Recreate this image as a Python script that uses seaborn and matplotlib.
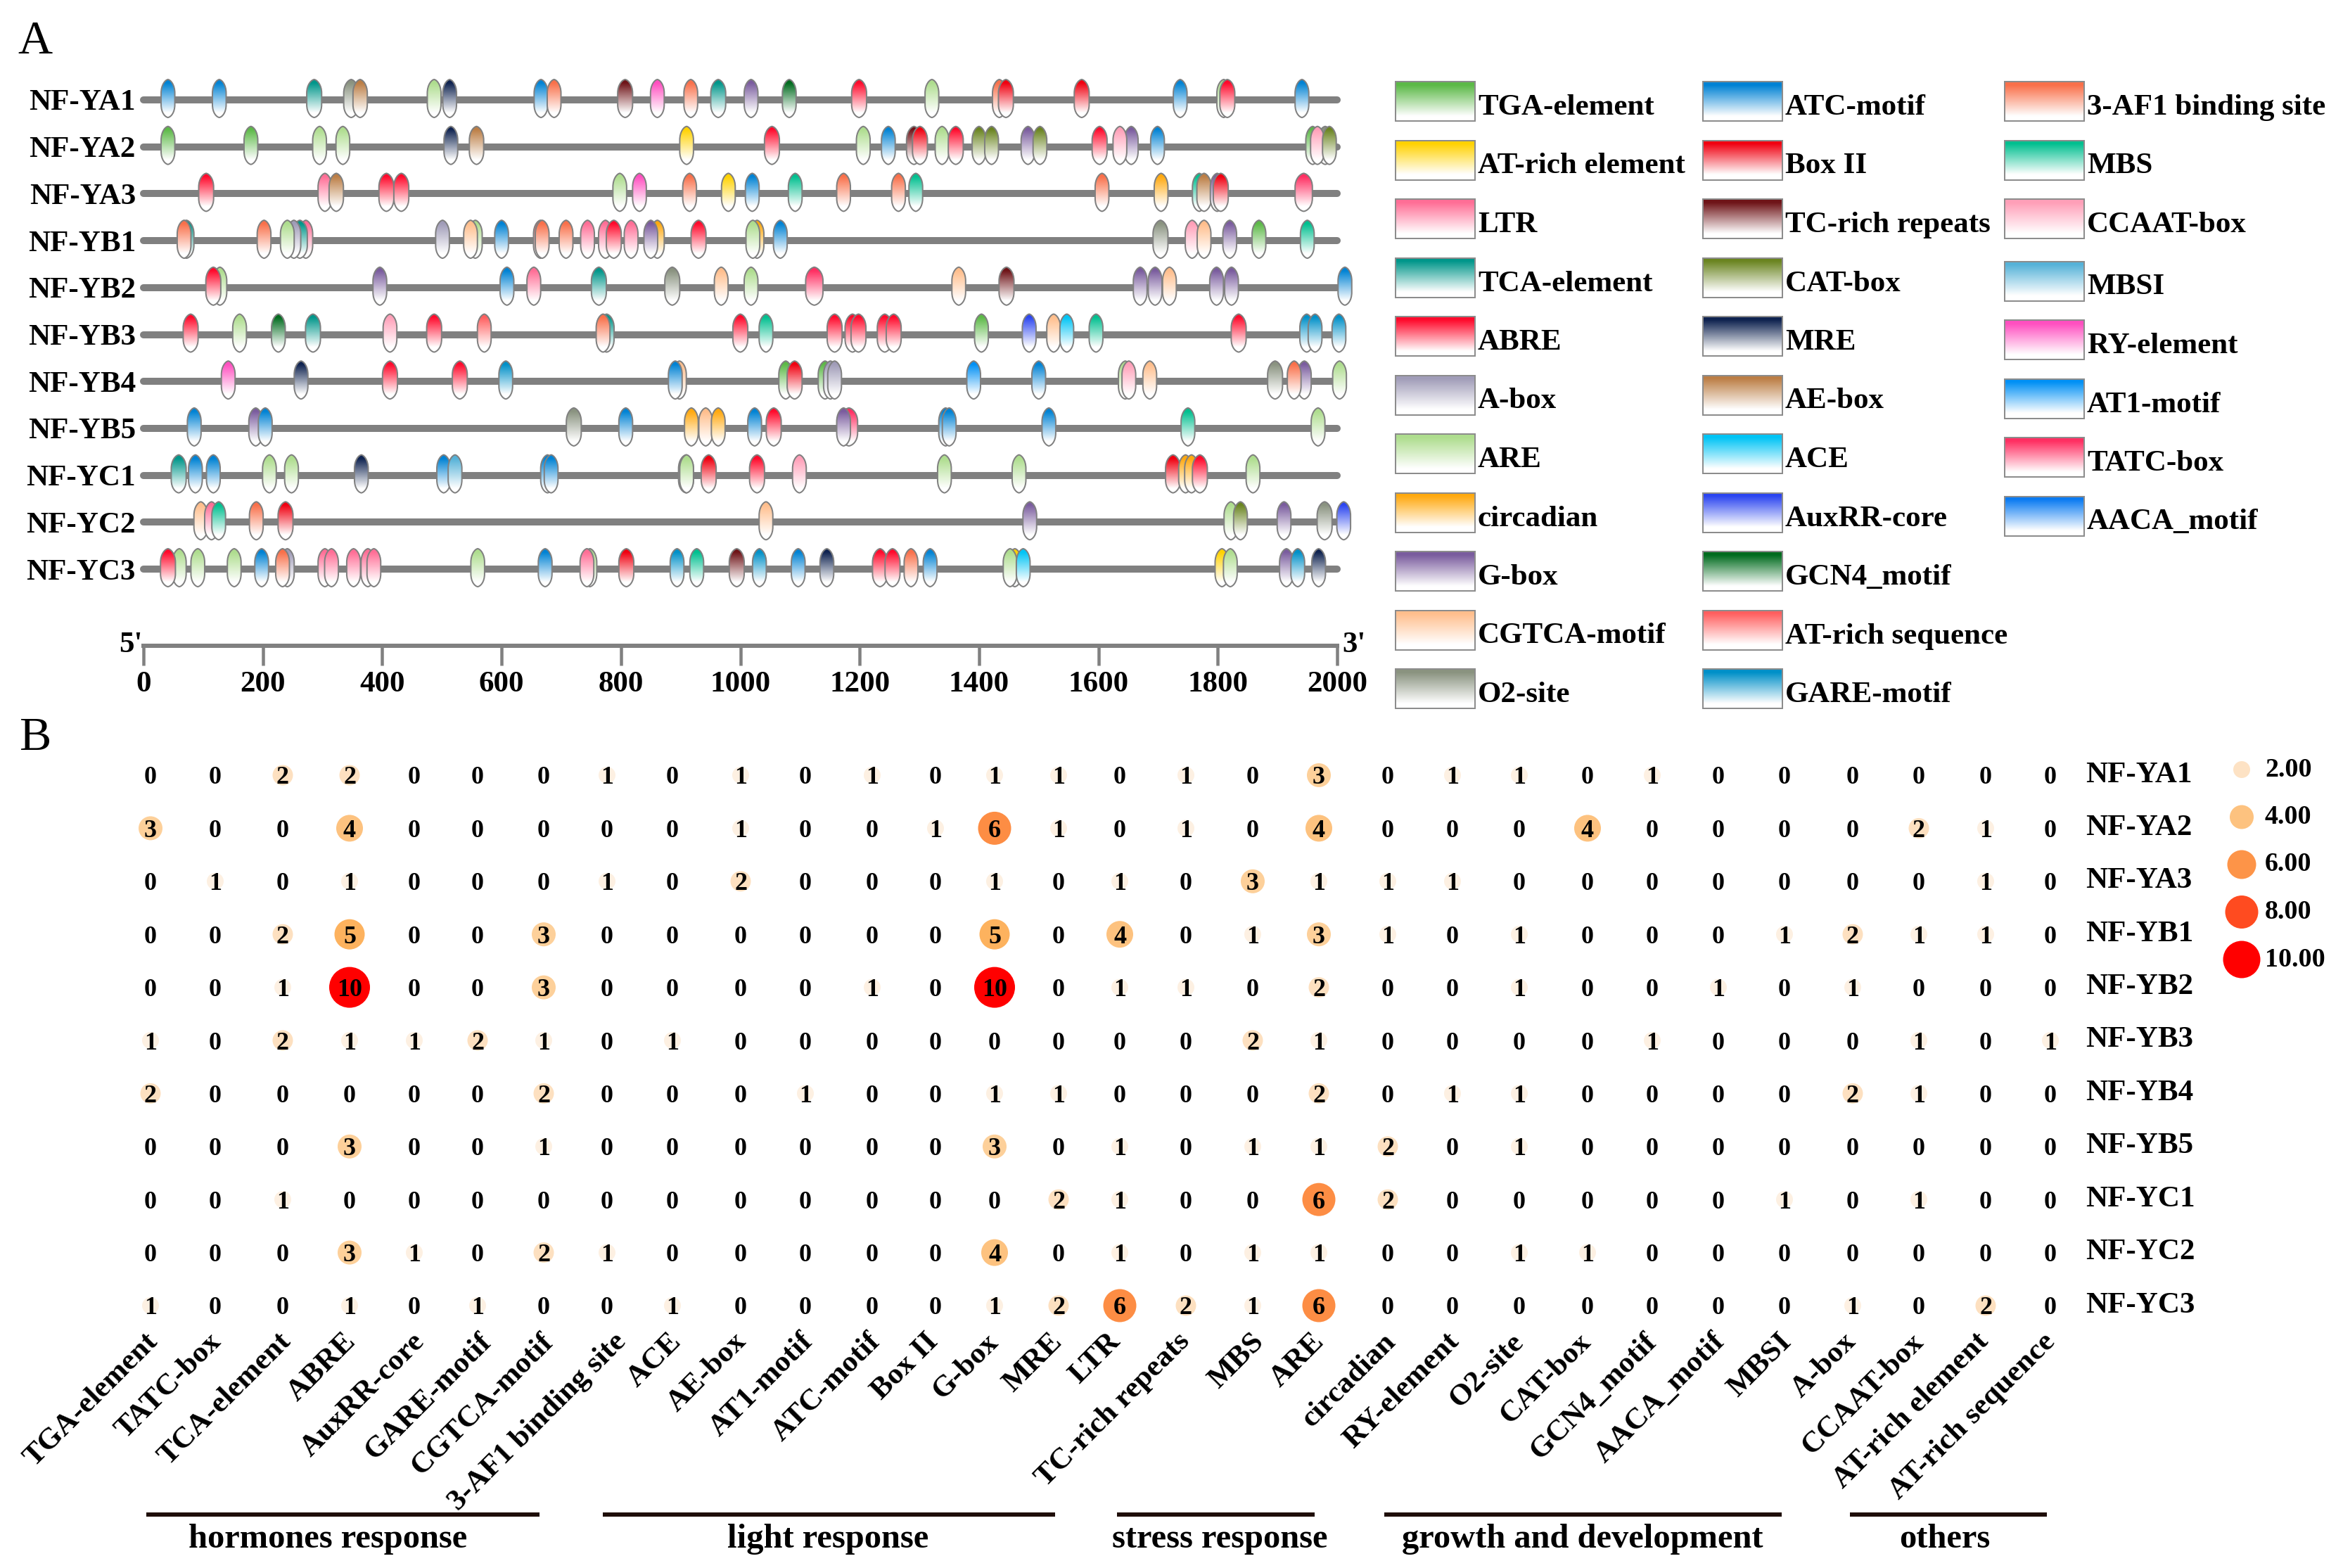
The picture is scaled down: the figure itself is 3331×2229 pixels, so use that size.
import numpy as np
import pandas as pd
import seaborn as sns
import matplotlib.pyplot as plt
from matplotlib.colors import LinearSegmentedColormap
from matplotlib.patches import PathPatch, Rectangle
from matplotlib.path import Path
from matplotlib.transforms import ScaledTranslation

W, H = 3331, 2229

genes = ['NF-YA1', 'NF-YA2', 'NF-YA3', 'NF-YB1', 'NF-YB2', 'NF-YB3', 'NF-YB4', 'NF-YB5', 'NF-YC1', 'NF-YC2', 'NF-YC3']

# motif name, top colour of the gradient
legend_col1 = [('TGA-element', '#5CB947'), ('AT-rich element', '#FFD200'), ('LTR', '#FF6E96'), ('TCA-element', '#00968A'),
               ('ABRE', '#FF0A2C'), ('A-box', '#A09CB8'), ('ARE', '#AEDD8E'), ('circadian', '#FFA90F'),
               ('G-box', '#7A5C9E'), ('CGTCA-motif', '#FFBE8C'), ('O2-site', '#8A9380')]
legend_col2 = [('ATC-motif', '#0082D4'), ('Box II', '#F00010'), ('TC-rich repeats', '#6F1418'), ('CAT-box', '#6A8420'),
               ('MRE', '#0F2350'), ('AE-box', '#BC7E45'), ('ACE', '#00C4F5'), ('AuxRR-core', '#2B45F0'),
               ('GCN4_motif', '#006B1E'), ('AT-rich sequence', '#FF5F5F'), ('GARE-motif', '#0090C8')]
legend_col3 = [('3-AF1 binding site', '#F9704A'), ('MBS', '#00BF8F'), ('CCAAT-box', '#FF9FB8'), ('MBSI', '#55B2D8'),
               ('RY-element', '#FF4FC0'), ('AT1-motif', '#0090F5'), ('TATC-box', '#FF2F62'), ('AACA_motif', '#0A7BF2')]

# position in bp, motif; later entries lie on top
ya1 = [(41, 'ATC-motif'), (127, 'ATC-motif'), (286, 'TCA-element'), (348, 'O2-site'), (363, 'AE-box'), (487, 'ARE'),
       (513, 'MRE'), (666, 'ATC-motif'), (688, '3-AF1 binding site'), (807, 'TC-rich repeats'), (861, 'RY-element'),
       (917, '3-AF1 binding site'), (963, 'TCA-element'), (1018, 'G-box'), (1082, 'GCN4_motif'), (1199, 'ABRE'),
       (1321, 'ARE'), (1434, '3-AF1 binding site'), (1445, 'Box II'), (1572, 'Box II'), (1737, 'ATC-motif'),
       (1810, 'ARE'), (1816, 'ABRE'), (1941, 'ATC-motif')]
ya2 = [(41, 'TGA-element'), (180, 'TGA-element'), (295, 'ARE'), (334, 'ARE'), (515, 'MRE'), (558, 'AE-box'),
       (910, 'AT-rich element'), (1053, 'ABRE'), (1206, 'ARE'), (1248, 'ATC-motif'), (1291, 'TC-rich repeats'),
       (1301, 'Box II'), (1338, 'ARE'), (1361, 'ABRE'), (1400, 'CAT-box'), (1421, 'CAT-box'), (1482, 'G-box'),
       (1502, 'CAT-box'), (1602, 'ABRE'), (1655, 'G-box'), (1636, 'CCAAT-box'), (1699, 'ATC-motif'),
       (1959, 'TGA-element'), (1980, 'O2-site'), (1967, 'CCAAT-box'), (1987, 'CAT-box')]
ya3 = [(105, 'ABRE'), (304, 'LTR'), (323, 'AE-box'), (407, 'ABRE'), (432, 'ABRE'), (798, 'ARE'), (831, 'RY-element'),
       (915, '3-AF1 binding site'), (980, 'AT-rich element'), (1020, 'ATC-motif'), (1092, 'MBS'),
       (1173, '3-AF1 binding site'), (1265, '3-AF1 binding site'), (1294, 'MBS'), (1606, '3-AF1 binding site'),
       (1705, 'circadian'), (1769, 'MBS'), (1777, 'AE-box'), (1799, 'G-box'), (1805, 'Box II'), (1944, 'TATC-box')]
yb1 = [(72, 'TCA-element'), (68, '3-AF1 binding site'), (202, '3-AF1 binding site'), (272, 'LTR'), (262, 'TCA-element'),
       (252, 'A-box'), (241, 'ARE'), (501, 'A-box'), (556, 'ARE'), (548, 'CGTCA-motif'), (600, 'ATC-motif'),
       (665, 'AT-rich sequence'), (668, '3-AF1 binding site'), (708, '3-AF1 binding site'), (744, 'LTR'), (774, 'LTR'),
       (788, 'ABRE'), (817, 'LTR'), (861, 'circadian'), (850, 'G-box'), (930, 'ABRE'), (1028, 'circadian'), (1021, 'ARE'),
       (1067, 'ATC-motif'), (1704, 'O2-site'), (1757, 'CCAAT-box'), (1777, 'CGTCA-motif'), (1820, 'G-box'),
       (1869, 'TGA-element'), (1950, 'MBS')]
yb2 = [(128, 'ARE'), (117, 'ABRE'), (396, 'G-box'), (609, 'ATC-motif'), (654, 'LTR'), (763, 'TCA-element'), (886, 'O2-site'),
       (968, 'CGTCA-motif'), (1018, 'ARE'), (1124, 'TATC-box'), (1366, 'CGTCA-motif'), (1446, 'TC-rich repeats'),
       (1670, 'G-box'), (1695, 'G-box'), (1719, 'CGTCA-motif'), (1798, 'G-box'), (1823, 'G-box'), (2013, 'ATC-motif')]
yb3 = [(79, 'ABRE'), (161, 'ARE'), (226, 'GCN4_motif'), (284, 'TCA-element'), (413, 'CCAAT-box'), (487, 'ABRE'),
       (571, 'AT-rich sequence'), (776, 'TCA-element'), (770, '3-AF1 binding site'), (1000, 'ABRE'), (1043, 'MBS'),
       (1158, 'ABRE'), (1188, 'ABRE'), (1198, 'ABRE'), (1242, 'ABRE'), (1257, 'ABRE'), (1404, 'TGA-element'),
       (1484, 'AuxRR-core'), (1525, 'CGTCA-motif'), (1547, 'ACE'), (1596, 'MBS'), (1835, 'ABRE'), (1949, 'GARE-motif'),
       (1963, 'GARE-motif'), (2003, 'GARE-motif')]
yb4 = [(142, 'RY-element'), (264, 'MRE'), (413, 'ABRE'), (530, 'ABRE'), (607, 'GARE-motif'), (898, 'CGTCA-motif'),
       (891, 'ATC-motif'), (1076, 'TGA-element'), (1091, 'Box II'), (1142, 'TGA-element'), (1151, 'A-box'), (1158, 'A-box'),
       (1391, 'AT1-motif'), (1500, 'ATC-motif'), (1645, 'ARE'), (1651, 'CCAAT-box'), (1686, 'CGTCA-motif'), (1896, 'O2-site'),
       (1945, 'G-box'), (1928, '3-AF1 binding site'), (2004, 'ARE')]
yb5 = [(85, 'ATC-motif'), (188, 'G-box'), (204, 'ATC-motif'), (721, 'O2-site'), (808, 'ATC-motif'), (918, 'circadian'),
       (942, 'CGTCA-motif'), (963, 'circadian'), (1024, 'ATC-motif'), (1056, 'ABRE'), (1182, 'TATC-box'), (1173, 'G-box'),
       (1344, 'ATC-motif'), (1350, 'ATC-motif'), (1517, 'ATC-motif'), (1750, 'MBS'), (1968, 'ARE')]
yc1 = [(59, 'TCA-element'), (87, 'ATC-motif'), (117, 'ATC-motif'), (211, 'ARE'), (248, 'ARE'), (365, 'MRE'),
       (503, 'ATC-motif'), (522, 'MBSI'), (677, 'ATC-motif'), (683, 'ATC-motif'), (909, 'O2-site'), (910, 'ARE'),
       (947, 'Box II'), (1028, 'ABRE'), (1099, 'CCAAT-box'), (1342, 'ARE'), (1467, 'ARE'), (1725, 'Box II'),
       (1746, 'circadian'), (1756, 'circadian'), (1770, 'ABRE'), (1859, 'ARE')]
yc2 = [(96, 'CGTCA-motif'), (114, 'LTR'), (126, 'MBS'), (189, '3-AF1 binding site'), (238, 'Box II'), (1043, 'CGTCA-motif'),
       (1485, 'G-box'), (1822, 'ARE'), (1838, 'CAT-box'), (1911, 'G-box'), (1979, 'O2-site'), (2011, 'AuxRR-core')]
yc3 = [(60, 'ARE'), (41, 'ABRE'), (91, 'ARE'), (152, 'ARE'), (198, 'ATC-motif'), (241, 'A-box'), (233, '3-AF1 binding site'),
       (304, 'LTR'), (315, 'LTR'), (352, 'LTR'), (376, 'LTR'), (386, 'LTR'), (560, 'ARE'), (673, 'ATC-motif'), (748, 'ARE'),
       (743, 'LTR'), (809, 'Box II'), (894, 'GARE-motif'), (927, 'MBS'), (994, 'TC-rich repeats'), (1032, 'GARE-motif'),
       (1097, 'ATC-motif'), (1145, 'MRE'), (1234, 'ABRE'), (1255, 'ABRE'), (1286, '3-AF1 binding site'), (1318, 'ATC-motif'),
       (1460, 'AT-rich element'), (1452, 'ARE'), (1474, 'ACE'), (1807, 'AT-rich element'), (1821, 'ARE'), (1915, 'G-box'),
       (1934, 'GARE-motif'), (1969, 'MRE')]
gene_motifs = [ya1, ya2, ya3, yb1, yb2, yb3, yb4, yb5, yc1, yc2, yc3]
wide_motifs = {'TATC-box': 29, 'ABRE': 25, 'Box II': 25, 'TCA-element': 25, 'O2-site': 25, 'AE-box': 24, 'TC-rich repeats': 25}

elements = ['TGA-element', 'TATC-box', 'TCA-element', 'ABRE', 'AuxRR-core', 'GARE-motif', 'CGTCA-motif', '3-AF1 binding site',
            'ACE', 'AE-box', 'AT1-motif', 'ATC-motif', 'Box II', 'G-box', 'MRE', 'LTR', 'TC-rich repeats', 'MBS', 'ARE',
            'circadian', 'RY-element', 'O2-site', 'CAT-box', 'GCN4_motif', 'AACA_motif', 'MBSI', 'A-box', 'CCAAT-box',
            'AT-rich element', 'AT-rich sequence']
# column centres and label ends of panel B, they are not evenly spaced in the picture
column_px = [214, 306, 402, 497, 589, 679, 773, 863, 956, 1053, 1145, 1240, 1330, 1414, 1505, 1592, 1686, 1781, 1875, 1973,
             2065, 2160, 2257, 2349, 2443, 2537, 2634, 2728, 2823, 2915]
label_end_px = [226, 316, 415, 507, 605, 700, 788, 891, 970, 1062, 1157, 1253, 1335, 1421, 1511, 1594, 1693, 1798, 1884, 1986,
                2076, 2168, 2263, 2357, 2453, 2548, 2640, 2736, 2828, 2923]
counts = [
    [0, 0, 2, 2, 0, 0, 0, 1, 0, 1, 0, 1, 0, 1, 1, 0, 1, 0, 3, 0, 1, 1, 0, 1, 0, 0, 0, 0, 0, 0],
    [3, 0, 0, 4, 0, 0, 0, 0, 0, 1, 0, 0, 1, 6, 1, 0, 1, 0, 4, 0, 0, 0, 4, 0, 0, 0, 0, 2, 1, 0],
    [0, 1, 0, 1, 0, 0, 0, 1, 0, 2, 0, 0, 0, 1, 0, 1, 0, 3, 1, 1, 1, 0, 0, 0, 0, 0, 0, 0, 1, 0],
    [0, 0, 2, 5, 0, 0, 3, 0, 0, 0, 0, 0, 0, 5, 0, 4, 0, 1, 3, 1, 0, 1, 0, 0, 0, 1, 2, 1, 1, 0],
    [0, 0, 1, 10, 0, 0, 3, 0, 0, 0, 0, 1, 0, 10, 0, 1, 1, 0, 2, 0, 0, 1, 0, 0, 1, 0, 1, 0, 0, 0],
    [1, 0, 2, 1, 1, 2, 1, 0, 1, 0, 0, 0, 0, 0, 0, 0, 0, 2, 1, 0, 0, 0, 0, 1, 0, 0, 0, 1, 0, 1],
    [2, 0, 0, 0, 0, 0, 2, 0, 0, 0, 1, 0, 0, 1, 1, 0, 0, 0, 2, 0, 1, 1, 0, 0, 0, 0, 2, 1, 0, 0],
    [0, 0, 0, 3, 0, 0, 1, 0, 0, 0, 0, 0, 0, 3, 0, 1, 0, 1, 1, 2, 0, 1, 0, 0, 0, 0, 0, 0, 0, 0],
    [0, 0, 1, 0, 0, 0, 0, 0, 0, 0, 0, 0, 0, 0, 2, 1, 0, 0, 6, 2, 0, 0, 0, 0, 0, 1, 0, 1, 0, 0],
    [0, 0, 0, 3, 1, 0, 2, 1, 0, 0, 0, 0, 0, 4, 0, 1, 0, 1, 1, 0, 0, 1, 1, 0, 0, 0, 0, 0, 0, 0],
    [1, 0, 0, 1, 0, 1, 0, 0, 1, 0, 0, 0, 0, 1, 2, 6, 2, 1, 6, 0, 0, 0, 0, 0, 0, 0, 1, 0, 2, 0],
]
dot_colors = {1: '#FDF0E2', 2: '#FDE0C0', 3: '#FDD09A', 4: '#FDC27F', 5: '#FDB25E', 6: '#FD8D44', 10: '#FF0000'}
dot_px = {1: 24, 2: 29, 3: 34, 4: 38, 5: 43, 6: 47, 10: 58}

legend_values = [2, 4, 6, 8, 10]
legend_colors = {2: '#FDE2C4', 4: '#FDC27F', 6: '#FD9448', 8: '#FF4B20', 10: '#FF0000'}
legend_px = {2: 24, 4: 34, 6: 41, 8: 47, 10: 53}

groups = ['hormones response', 'light response', 'stress response', 'growth and development', 'others']
group_left = [208, 857, 1588, 1968, 2630]
group_right = [767, 1500, 1869, 2533, 2910]
group_text_x = [466, 1177, 1734, 2250, 2765]

sns.set_theme(style='white')
plt.rcParams['font.family'] = ['Liberation Serif', 'DejaVu Serif']
plt.rcParams['font.weight'] = 'bold'
for key_name in ['text.color', 'axes.labelcolor', 'xtick.labelcolor', 'ytick.labelcolor']:
    plt.rcParams[key_name] = 'black'

FONT_PX = 43


def pt(px):
    return px * 0.72


def pixel_axes(left, top, right, bottom):
    return fig.add_axes([left / W, 1 - bottom / H, (right - left) / W, (bottom - top) / H])


def fade_cmap(color):
    return LinearSegmentedColormap.from_list('fade', [(0, color), (0.08, color), (0.88, 'white'), (1, 'white')])


def motif_path(c, w, top, bot):
    h = bot - top
    codes = [Path.MOVETO, Path.CURVE4, Path.CURVE4, Path.CURVE4, Path.LINETO, Path.CURVE4, Path.CURVE4, Path.CURVE4,
             Path.CURVE4, Path.CURVE4, Path.CURVE4, Path.LINETO, Path.CURVE4, Path.CURVE4, Path.CURVE4, Path.CLOSEPOLY]
    l, r = c - w / 2, c + w / 2
    verts = [(c, top), (c + w * 0.2, top + h * 0.01), (r, top + h * 0.14), (r, top + h * 0.36), (r, bot - h * 0.34),
             (r, bot - h * 0.12), (c + w * 0.2, bot - h * 0.01), (c, bot), (c - w * 0.2, bot - h * 0.01), (l, bot - h * 0.12),
             (l, bot - h * 0.34), (l, top + h * 0.36), (l, top + h * 0.14), (c - w * 0.2, top + h * 0.01), (c, top), (c, top)]
    return Path(verts, codes)


fig = plt.figure(figsize=(W / 100, H / 100), dpi=100)
gradient = np.linspace(0, 1, 80).reshape(-1, 1)
colors = dict(legend_col1 + legend_col2 + legend_col3)

# panel A, x in bp
row_px = 66.7
ax_a = pixel_axes(204, 100, 1901, 918)
ax_a.set_xlim(0, 2000)
ax_a.set_ylim((918 - 142) / row_px, (100 - 142) / row_px)
ax_a.set_autoscale_on(False)

z = 3
for i, motifs in enumerate(gene_motifs):
    sns.lineplot(x=[0, 2000], y=[i, i], ax=ax_a, color='#808080', linewidth=pt(10), solid_capstyle='round',
                 errorbar=None, zorder=2, clip_on=False)
    for pos, name in motifs:
        w = wide_motifs.get(name, 23)
        top, bot = i - 29 / row_px, i + 25 / row_px
        im = ax_a.imshow(gradient, extent=[pos - w / 2, pos + w / 2, bot, top], aspect='auto', cmap=fade_cmap(colors[name]),
                         vmin=0, vmax=1, zorder=z, interpolation='bilinear')
        outline = PathPatch(motif_path(pos, w, top, bot), facecolor='none', edgecolor='#808080', linewidth=pt(2),
                            zorder=z + 0.5, clip_on=False)
        ax_a.add_patch(outline)
        im.set_clip_path(outline)
        im.set_clip_box(fig.bbox)
        z += 1

ax_a.set_facecolor('none')
for side in ['top', 'left', 'right']:
    ax_a.spines[side].set_visible(False)
ax_a.spines['bottom'].set_color('#808080')
ax_a.spines['bottom'].set_linewidth(pt(6))
ax_a.set_xticks(range(0, 2001, 200))
ax_a.tick_params(axis='x', bottom=True, length=pt(28), width=pt(4.5), color='#808080', labelsize=pt(FONT_PX), pad=pt(8))
ax_a.set_yticks(range(len(genes)))
ax_a.set_yticklabels(genes)
ax_a.tick_params(axis='y', left=False, length=0, labelsize=pt(FONT_PX), pad=pt(11))
ax_a.set_xlabel('')
ax_a.set_ylabel('')

# panel B, x in picture pixels so the columns can stay where they were read
rows_n = len(genes)
ax_b = pixel_axes(167.5, 1064.3, 2961.5, 1893.7)
table = pd.DataFrame(counts, index=genes, columns=elements).stack().reset_index()
table.columns = ['gene', 'element', 'count']
table['col'] = table['element'].map(dict(zip(elements, column_px)))
table['row'] = table['gene'].map({g: k for k, g in enumerate(genes)})
sns.scatterplot(data=table[table['count'] > 0], x='col', y='row', hue='count', size='count', palette=dot_colors,
                sizes={k: pt(v) ** 2 for k, v in dot_px.items()}, linewidth=0, legend=False, ax=ax_b, clip_on=False)
for _, cell in table.iterrows():
    ax_b.text(cell['col'], cell['row'], str(cell['count']), ha='center', va='center_baseline', fontsize=pt(36), color='black')
ax_b.set_xlim(167.5, 2961.5)
ax_b.set_ylim(rows_n - 0.5, -0.5)
sns.despine(ax=ax_b, left=True, bottom=True)
ax_b.set_xticks([e - 7 for e in label_end_px])
ax_b.set_xticklabels(elements)
ax_b.set_yticks(range(rows_n))
ax_b.set_yticklabels(genes)
ax_b.yaxis.tick_right()
ax_b.tick_params(axis='x', length=0, labelsize=pt(FONT_PX), pad=pt(8))
ax_b.tick_params(axis='y', length=0, labelsize=pt(FONT_PX), pad=pt(4))
plt.setp(ax_b.get_xticklabels(), rotation=45, ha='right', va='center', rotation_mode='anchor')
raise_labels = ScaledTranslation(0, 5 / 100, fig.dpi_scale_trans)
for label in ax_b.get_yticklabels():
    label.set_transform(label.get_transform() + raise_labels)
ax_b.set_xlabel('')
ax_b.set_ylabel('')
ax_b.set_facecolor('none')

# size key, y in count units
ax_k = pixel_axes(3160, 1094, 3214, 1364)
key = pd.DataFrame({'x': [0] * len(legend_values), 'value': legend_values})
sns.scatterplot(data=key, x='x', y='value', hue='value', size='value', palette=legend_colors,
                sizes={k: pt(v) ** 2 for k, v in legend_px.items()}, linewidth=0, legend=False, ax=ax_k, clip_on=False)
ax_k.set_xlim(-1, 1)
ax_k.set_ylim(10, 2)
ax_k.axis('off')
for v in legend_values:
    ax_k.annotate(f'{v:.2f}', (1, v), xytext=(pt(6), 0), textcoords='offset points', ha='left', va='center',
                  fontsize=pt(38), annotation_clip=False)

# overlay in pixels: swatches, group bars, letters
ov = fig.add_axes([0, 0, 1, 1])
ov.set_xlim(0, W)
ov.set_ylim(H, 0)
ov.set_autoscale_on(False)
ov.axis('off')
for items, x0, shift in [(legend_col1, 1984, 0), (legend_col2, 2421, 0), (legend_col3, 2850, 5)]:
    for i, (name, color) in enumerate(items):
        top = 116 + 83.5 * i + (shift if i >= 3 else 0)
        ov.imshow(gradient, extent=[x0, x0 + 113, top + 56, top], aspect='auto', cmap=fade_cmap(color), vmin=0, vmax=1,
                  interpolation='bilinear')
        ov.add_patch(Rectangle((x0, top), 113, 56, facecolor='none', edgecolor='#8C8C8C', linewidth=pt(2)))
        ov.text(x0 + 117, top + 47, name, ha='left', va='baseline', fontsize=pt(FONT_PX))

for name, l, r, tx in zip(groups, group_left, group_right, group_text_x):
    ov.plot([l, r], [2153, 2153], color='#1F0E08', linewidth=pt(6), solid_capstyle='butt')
    ov.text(tx, 2200, name, ha='center', va='baseline', fontsize=pt(48.5))

ov.text(25, 76, 'A', fontsize=pt(68), fontweight='normal', ha='left', va='baseline')
ov.text(27, 1066, 'B', fontsize=pt(68), fontweight='normal', ha='left', va='baseline')
ov.text(186, 927, "5'", fontsize=pt(FONT_PX), ha='center', va='baseline')
ov.text(1925, 927, "3'", fontsize=pt(FONT_PX), ha='center', va='baseline')

fig.savefig('out.png', dpi=100)
